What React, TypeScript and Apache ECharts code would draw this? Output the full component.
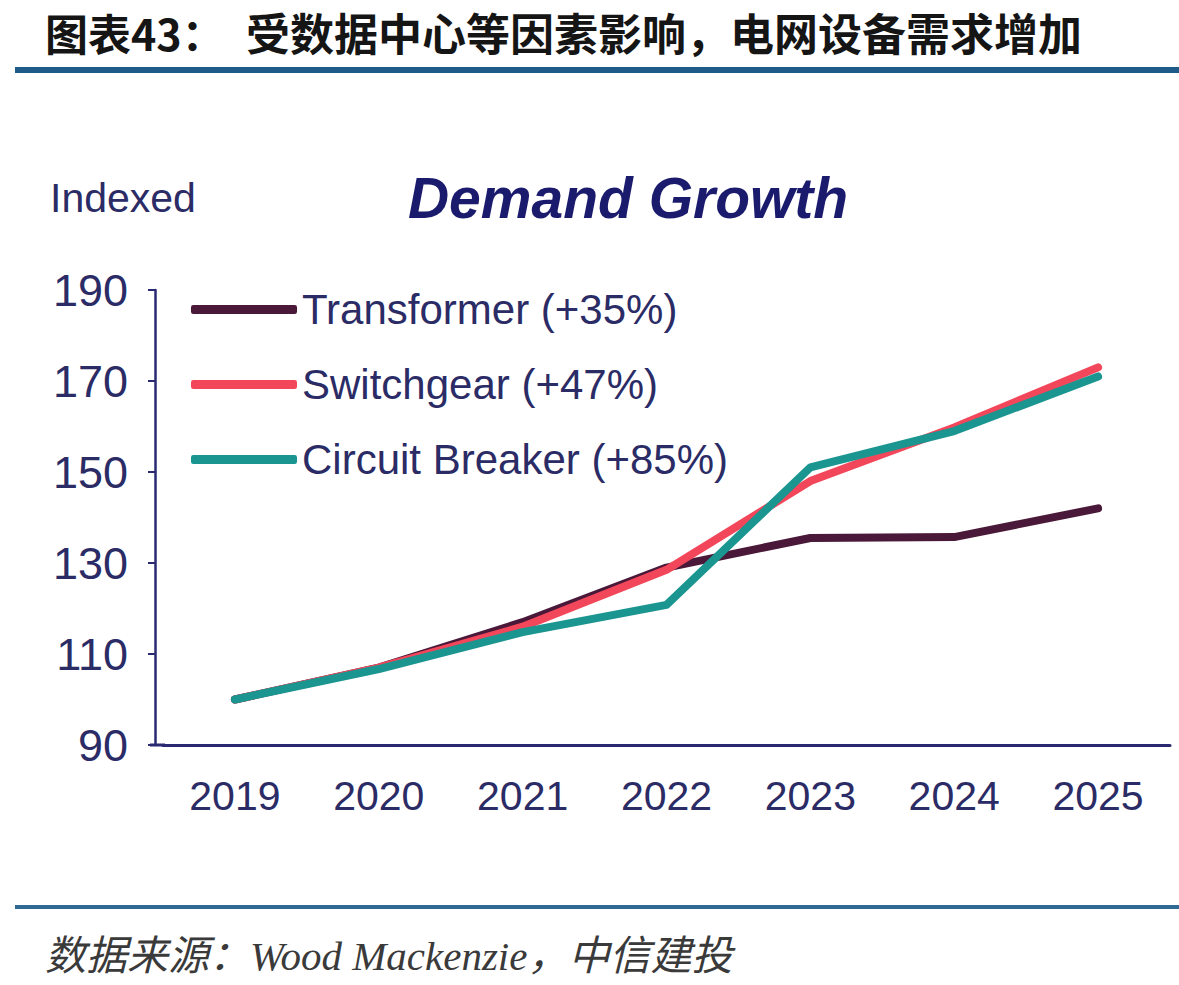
import React, { useEffect, useRef } from "react";
import * as echarts from "echarts";

const years = ["2019", "2020", "2021", "2022", "2023", "2024", "2025"];
const transformer = [100, 107, 117, 129, 135.5, 135.7, 142];
const switchgear = [100, 107, 116, 128.5, 148, 159.8, 173];
const circuitBreaker = [100, 106.7, 114.8, 120.8, 151, 159, 171];
const seriesNames = ["Transformer (+35%)", "Switchgear (+47%)", "Circuit Breaker (+85%)"];
const seriesColors = ["#4a1838", "#f2475b", "#1a9590"];
const yMin = 90;
const yMax = 190;
const yStep = 20;

const navy = "#2b2b66";
const axisColor = "#2a2a72";

export default function App() {
  const ref = useRef<HTMLDivElement>(null);
  useEffect(() => {
    if (!ref.current) return;
    const chart = echarts.init(ref.current, undefined, { renderer: "svg" });
    const dataSets = [transformer, switchgear, circuitBreaker];
    chart.setOption({
      animation: false,
      backgroundColor: "#ffffff",
      grid: { left: 163, right: 9, top: 290, bottom: 240, containLabel: false },
      legend: {
        show: true,
        orient: "vertical",
        left: 186,
        top: 283,
        itemWidth: 106,
        itemHeight: 9,
        itemGap: 32,
        icon: "roundRect",
        data: seriesNames,
        textStyle: {
          color: navy,
          fontSize: 42,
          lineHeight: 43,
          fontFamily: "Liberation Sans, Arial, sans-serif",
          padding: [0, 0, 0, 0],
        },
      },
      xAxis: {
        type: "category",
        data: years,
        boundaryGap: true,
        axisLine: { lineStyle: { color: axisColor, width: 3 } },
        axisTick: { show: false },
        axisLabel: {
          color: navy,
          fontSize: 41,
          margin: 30,
          fontFamily: "Liberation Sans, Arial, sans-serif",
        },
        splitLine: { show: false },
      },
      yAxis: {
        type: "value",
        min: yMin,
        max: yMax,
        interval: yStep,
        offset: 8,
        axisLine: { show: true, lineStyle: { color: axisColor, width: 2.5 } },
        axisTick: { show: true, length: 7, lineStyle: { color: axisColor, width: 2 } },
        axisLabel: {
          color: navy,
          fontSize: 45,
          margin: 27,
          fontFamily: "Liberation Sans, Arial, sans-serif",
        },
        splitLine: { show: false },
      },
      series: seriesNames.map((name, i) => ({
        name,
        type: "line",
        data: dataSets[i],
        symbol: "none",
        smooth: false,
        color: seriesColors[i],
        lineStyle: { width: 8, color: seriesColors[i], cap: "round", join: "round" },
        z: 2 + i,
      })),
      graphic: [
        {
          type: "text",
          x: 45,
          y: 32,
          style: {
            text: "图表43：",
            font: "bold 43px 'Noto Sans CJK SC', sans-serif",
            fill: "#151515",
            textVerticalAlign: "middle",
          },
        },
        {
          type: "text",
          x: 246,
          y: 32,
          style: {
            text: "受数据中心等因素影响，电网设备需求增加",
            font: "bold 44px 'Noto Sans CJK SC', sans-serif",
            fill: "#151515",
            textVerticalAlign: "middle",
          },
        },
        {
          type: "rect",
          shape: { x: 15, y: 67, width: 1164, height: 6 },
          style: { fill: "#1f5b88" },
        },
        {
          type: "text",
          x: 50,
          y: 198,
          style: {
            text: "Indexed",
            font: "41px 'Liberation Sans', Arial, sans-serif",
            fill: navy,
            textVerticalAlign: "middle",
          },
        },
        {
          type: "text",
          x: 628,
          y: 198,
          style: {
            text: "Demand Growth",
            font: "italic bold 57px 'Liberation Sans', Arial, sans-serif",
            fill: "#1b1b6e",
            textAlign: "center",
            textVerticalAlign: "middle",
          },
        },
        {
          type: "line",
          shape: { x1: 150, y1: 745, x2: 165, y2: 745 },
          style: { stroke: axisColor, lineWidth: 3 },
        },
        {
          type: "rect",
          shape: { x: 15, y: 905, width: 1164, height: 4 },
          style: { fill: "#2f6a95" },
        },
        {
          type: "text",
          x: 45,
          y: 956,
          style: {
            text: "数据来源：Wood Mackenzie，中信建投",
            font: "italic 41px 'Liberation Serif', 'Noto Sans CJK SC', serif",
            fill: "#3a3a3a",
            textVerticalAlign: "middle",
          },
        },
      ],
    });
    return () => chart.dispose();
  }, []);
  return (
    <div
      ref={ref}
      style={{ position: "fixed", left: 0, top: 0, width: 1179, height: 985, background: "#fff" }}
    />
  );
}
